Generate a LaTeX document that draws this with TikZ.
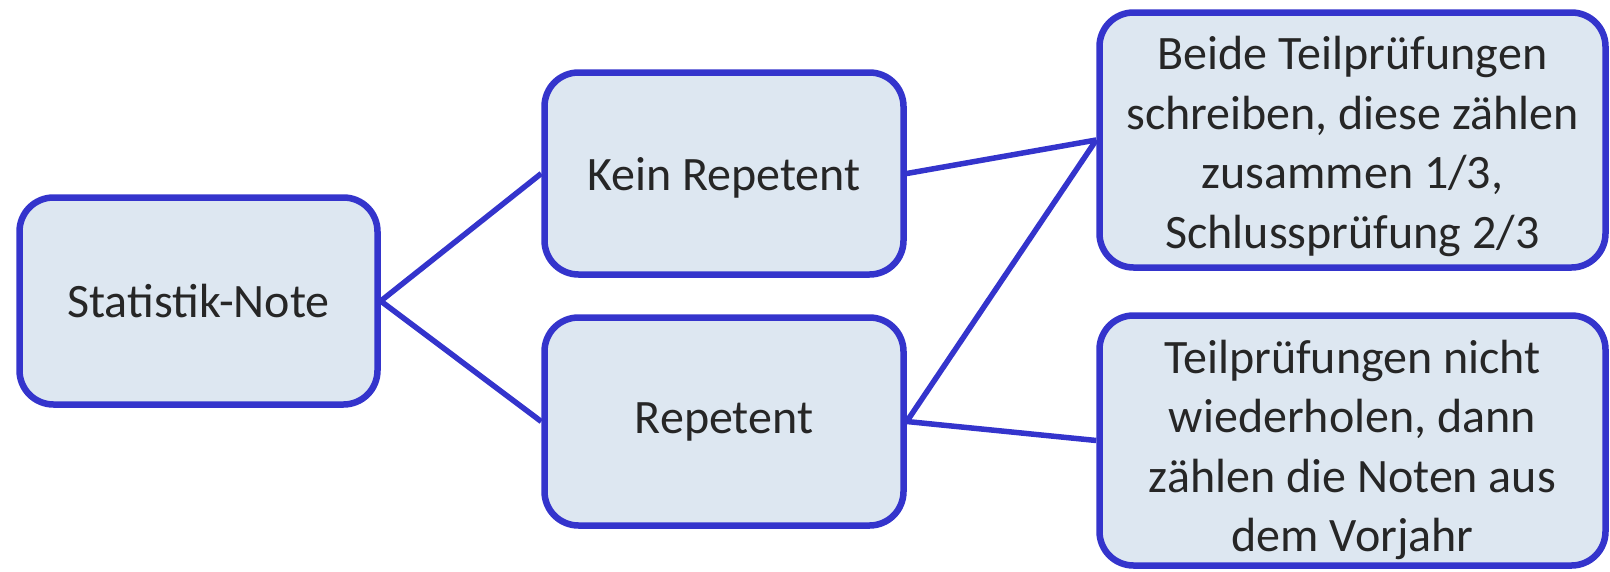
\documentclass[tikz,border=0pt]{standalone}
\usepackage{fontspec}
\setmainfont{Carlito}
\definecolor{boxline}{RGB}{52,52,204}
\definecolor{boxfill}{RGB}{221,231,241}
\definecolor{boxtext}{RGB}{38,38,38}
% invisible strut that pushes a text block slightly downwards
\newcommand{\toppad}[1]{\rule{0pt}{#1}}
\tikzset{
  card/.style={draw=boxline, fill=boxfill, line width=6.5pt, rounded corners=34pt,
    rectangle, inner sep=0pt, align=center, text=boxtext,
    font=\fontsize{48}{59.5}\selectfont},
  link/.style={draw=boxline, line width=5.5pt}
}
\begin{document}
\begin{tikzpicture}[x=1pt,y=-1pt]
  \useasboundingbox (0,0) rectangle (1610,571);
  \node[card, minimum width=358pt, minimum height=207pt] (note) at (198.5,301) {Statistik-Note};
  \node[card, minimum width=359pt, minimum height=202pt] (kein) at (724,173.5) {\toppad{42pt}Kein Repetent};
  \node[card, minimum width=359pt, minimum height=208pt] (rep) at (724,421.5) {Repetent};
  \node[card, minimum width=506pt, minimum height=255pt] (beide) at (1352.5,140)
    {\toppad{46pt}Beide Teilprüfungen\\schreiben, diese zählen\\zusammen 1/3,\\Schlussprüfung 2/3};
  \node[card, minimum width=506pt, minimum height=250pt] (teil) at (1352.5,440.5)
    {\toppad{52pt}Teilprüfungen nicht\\wiederholen, dann\\zählen die Noten aus\\dem Vorjahr};
  \draw[link] (note.east) -- (kein.west);
  \draw[link] (note.east) -- (rep.west);
  \draw[link] (kein.east) -- (beide.west);
  \draw[link] (rep.east) -- (beide.west);
  \draw[link] (rep.east) -- (teil.west);
\end{tikzpicture}
\end{document}
